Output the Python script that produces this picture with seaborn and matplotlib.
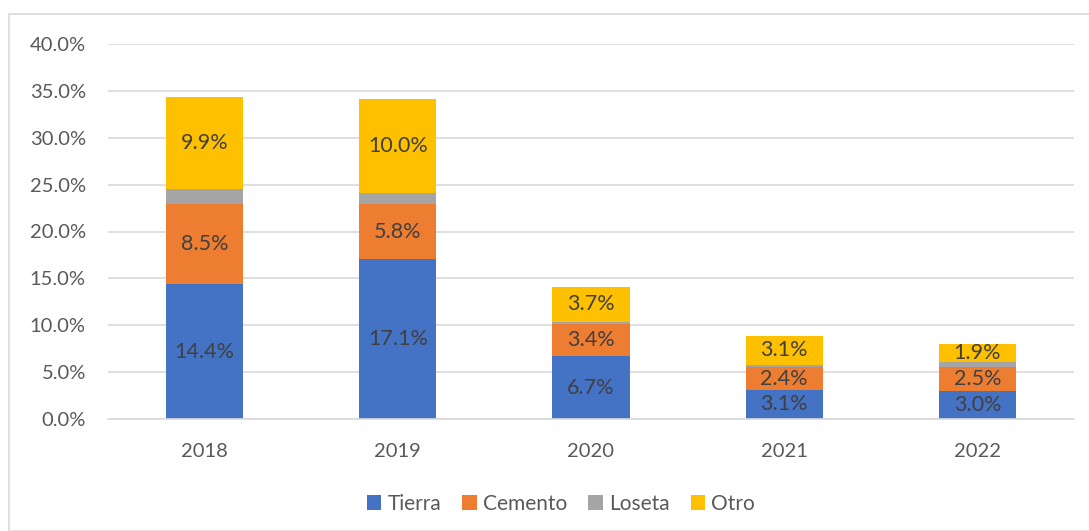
import numpy as np
import pandas as pd
import matplotlib
matplotlib.use("Agg")
import matplotlib.pyplot as plt
import seaborn as sns
from matplotlib.patches import Rectangle, Patch

years = ["2018", "2019", "2020", "2021", "2022"]
tierra = [14.4, 17.1, 6.7, 3.1, 3.0]
cemento = [8.5, 5.8, 3.4, 2.4, 2.5]
loseta = [1.6, 1.2, 0.3, 0.3, 0.6]
otro = [9.9, 10.0, 3.7, 3.1, 1.9]
series_names = ["Tierra", "Cemento", "Loseta", "Otro"]
colors = ["#4472C4", "#ED7D31", "#A5A5A5", "#FFC000"]
yticks = [0, 5, 10, 15, 20, 25, 30, 35, 40]

sns.set_theme(style="white")
plt.rcParams["font.family"] = ["Lato", "DejaVu Sans"]

fig = plt.figure(figsize=(10.89, 5.31), dpi=100)
ax = fig.add_axes([108/1089, 1-419/531, (1074-108)/1089, (419-44)/531])

# chart border
fig.patches.append(Rectangle((9/1089, 0), 1.2, 1-14/531, transform=fig.transFigure,
                             fill=False, edgecolor="#D9D9D9", linewidth=1.2))

series = [tierra, cemento, loseta, otro]
bottom = np.zeros(len(years))
for name, vals, col in zip(series_names, series, colors):
    df = pd.DataFrame({"year": years, "value": vals})
    sns.barplot(data=df, x="year", y="value", color=col, width=0.4,
                bottom=bottom, ax=ax, saturation=1, errorbar=None,
                edgecolor="none", linewidth=0)
    cont = ax.containers[-1]
    if name != "Loseta":
        labels = [f"{v:.1f}%" for v in vals]
        ax.bar_label(cont, labels=labels, label_type="center",
                     color="#404040", fontsize=15.5)
    bottom = bottom + np.array(vals)

ax.set_ylim(0, 40)
ax.set_xlim(-0.5, 4.5)
ax.set_yticks(yticks)
ax.set_yticklabels([f"{t:.1f}%" for t in yticks], color="#595959", fontsize=14.5)
ax.tick_params(axis="x", colors="#595959", labelsize=14.5, length=0, pad=17)
ax.tick_params(axis="y", length=0, pad=16)
ax.set_xlabel("")
ax.set_ylabel("")
ax.grid(axis="y", color="#D9D9D9", linewidth=1.2)
ax.set_axisbelow(True)
for s in ["top", "right", "left"]:
    ax.spines[s].set_visible(False)
ax.spines["bottom"].set_color("#D9D9D9")
ax.spines["bottom"].set_linewidth(1.2)

handles = [Patch(facecolor=c, edgecolor="none") for c in colors]
fig.legend(handles, series_names, loc="center", bbox_to_anchor=(561/1089, 1-504/531),
           ncol=4, frameon=False, fontsize=15, handlelength=0.7, handleheight=0.7,
           handletextpad=0.3, columnspacing=1.0, labelcolor="#595959")

fig.savefig("out.png", dpi=100)
